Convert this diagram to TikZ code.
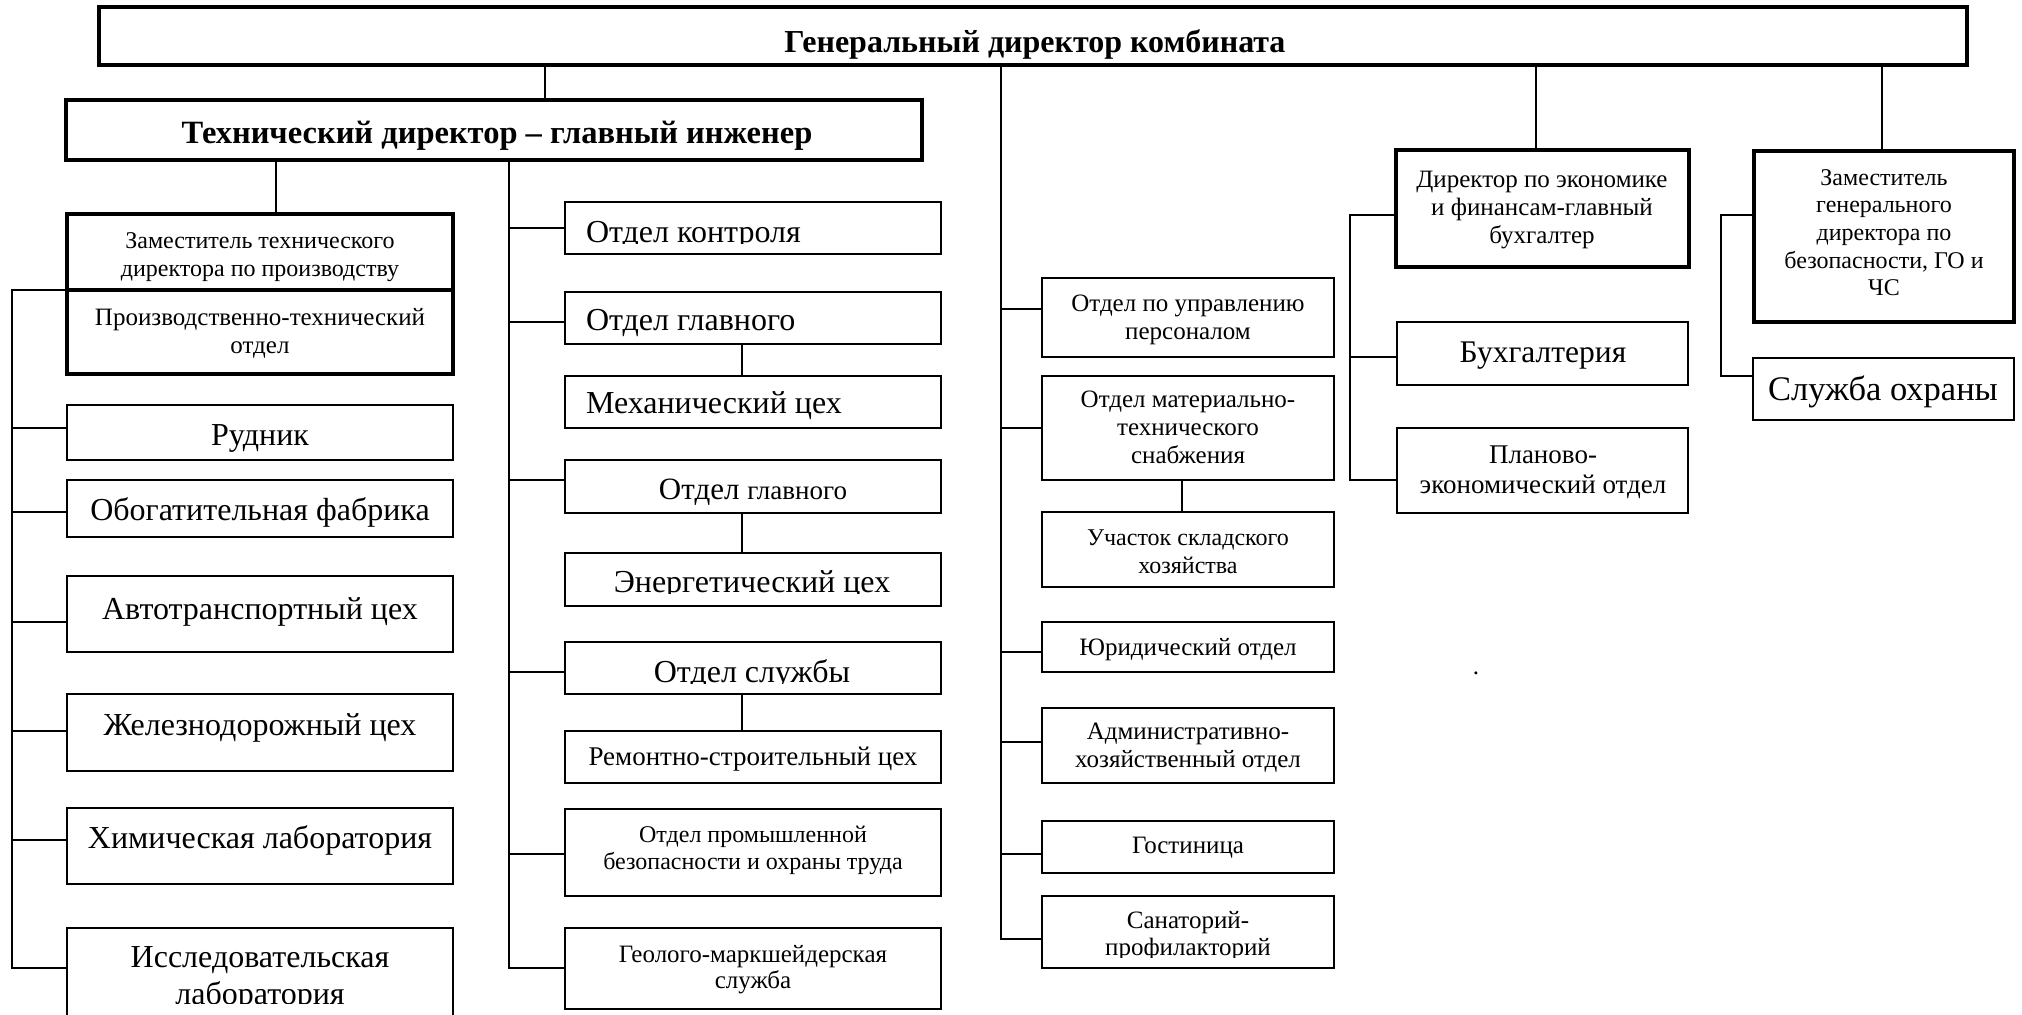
\documentclass[tikz,border=0pt]{standalone}
\usepackage{fontspec}
\setmainfont{Liberation Serif}
\newcommand\fs[2]{\fontsize{#1}{#2}\selectfont}
\newcommand\ml[1]{\begin{tabular}[t]{@{}c@{}}#1\end{tabular}}
\newcommand\boxnode[6]{\node[#1, minimum width={#5-#3}, minimum height={#6-#4}] (#2) at ({(#3+#5)/2},{(#4+#6)/2}) {};}
\newcommand\br[3]{\draw[cn] ([yshift=#3]#1.west) coordinate (#1-c) -- (#1-c -| #2);}
\tikzset{
  bx/.style={draw, line width=2pt, inner sep=0pt, outer sep=0pt},
  tbx/.style={draw, line width=3.5pt, inner sep=0pt, outer sep=0pt},
  cn/.style={line width=1.8pt},
  tx/.style={inner sep=0pt, outer sep=0pt, anchor=base},
  txw/.style={inner sep=0pt, outer sep=0pt, anchor=base west},
}
\begin{document}
\begin{tikzpicture}[x=1pt, y=-1pt]
\fill[white] (0,0) rectangle (2022,1015);
\useasboundingbox (0,0) rectangle (2022,1015);

% ---- top
\boxnode{tbx}{gen}{99}{7}{1967}{65}
\node[tx, font={\fs{32}{38}\bfseries}] (gen-t) at (1035,52) {Генеральный директор комбината};
\boxnode{tbx}{tech}{66}{100}{922}{160}
\node[tx, font={\fs{32.5}{40}\bfseries}] (tech-t) at (497,143) {Технический директор – главный инженер};

% ---- left column
\boxnode{tbx}{zamt}{67}{214}{453}{290}
\node[tx, font={\fs{24}{28}}] (zamt-t) at (260,248) {\ml{Заместитель технического\\директора по производству}};
\boxnode{tbx}{pto}{67}{290}{453}{374}
\node[tx, font={\fs{25}{28}}] (pto-t) at (260,325) {\ml{Производственно-технический\\отдел}};
\boxnode{bx}{rud}{67}{405}{453}{460}
\node[tx, font={\fs{32}{38}}] (rud-t) at (260,445) {Рудник};
\boxnode{bx}{obog}{67}{480}{453}{537}
\node[tx, font={\fs{32}{38}}] (obog-t) at (260,520) {Обогатительная фабрика};
\boxnode{bx}{avto}{67}{576}{453}{652}
\node[tx, font={\fs{32}{38}}] (avto-t) at (260,619) {Автотранспортный цех};
\boxnode{bx}{zhd}{67}{694}{453}{771}
\node[tx, font={\fs{32}{38}}] (zhd-t) at (260,735) {Железнодорожный цех};
\boxnode{bx}{chem}{67}{808}{453}{884}
\node[tx, font={\fs{32}{38}}] (chem-t) at (260,848) {Химическая лаборатория};
\boxnode{bx}{issl}{67}{928}{453}{1045}
\begin{scope}
\clip (issl.north west) rectangle ([yshift=42]issl.south east);
\node[tx, font={\fs{32}{37}}] (issl-t) at (260,967) {\ml{Исследовательская\\лаборатория}};
\end{scope}

% ---- middle column
\boxnode{bx}{kontrol}{565}{202}{941}{254}
\begin{scope}
\clip (kontrol.north west) rectangle ([yshift=11]kontrol.south east);
\node[txw, font={\fs{32}{36}}] (kontrol-t) at (586,242) {Отдел контроля};
\end{scope}
\boxnode{bx}{glav1}{565}{292}{941}{344}
\node[txw, font={\fs{32}{36}}] (glav1-t) at (586,330) {Отдел главного};
\boxnode{bx}{meh}{565}{376}{941}{428}
\node[txw, font={\fs{32}{36}}] (meh-t) at (586,413) {Механический цех};
\boxnode{bx}{glav2}{565}{460}{941}{513}
\node[tx, font={\fs{31}{36}}] (glav2-t) at (753,499) {Отдел {\fs{27}{32}главного}};
\boxnode{bx}{energ}{565}{553}{941}{606}
\begin{scope}
\clip (energ.north west) rectangle ([yshift=13]energ.south east);
\node[tx, font={\fs{32}{36}}] (energ-t) at (752,592) {Энергетический цех};
\end{scope}
\boxnode{bx}{sluzhby}{565}{642}{941}{694}
\begin{scope}
\clip (sluzhby.north west) rectangle ([yshift=11]sluzhby.south east);
\node[tx, font={\fs{32}{36}}] (sluzhby-t) at (752,682) {Отдел службы};
\end{scope}
\boxnode{bx}{remont}{565}{731}{941}{783}
\node[tx, font={\fs{27}{32}}] (remont-t) at (753,765) {Ремонтно-строительный цех};
\boxnode{bx}{prombez}{565}{809}{941}{896}
\node[tx, font={\fs{24}{27.5}}] (prombez-t) at (753,842) {\ml{Отдел промышленной\\безопасности и охраны труда}};
\boxnode{bx}{geolog}{565}{928}{941}{1009}
\node[tx, font={\fs{25}{26.5}}] (geolog-t) at (753,962) {\ml{Геолого-маркшейдерская\\служба}};

% ---- third column
\boxnode{bx}{personal}{1042}{278}{1334}{357}
\node[tx, font={\fs{25}{28}}] (personal-t) at (1188,311) {\ml{Отдел по управлению\\персоналом}};
\boxnode{bx}{mts}{1042}{376}{1334}{480}
\node[tx, font={\fs{25}{28}}] (mts-t) at (1188,407) {\ml{Отдел материально-\\технического\\снабжения}};
\boxnode{bx}{uch}{1042}{512}{1334}{587}
\node[tx, font={\fs{24}{28}}] (uch-t) at (1188,545) {\ml{Участок складского\\хозяйства}};
\boxnode{bx}{yur}{1042}{622}{1334}{672}
\node[tx, font={\fs{25}{28}}] (yur-t) at (1188,655) {Юридический отдел};
\boxnode{bx}{admin}{1042}{708}{1334}{783}
\node[tx, font={\fs{25}{28}}] (admin-t) at (1188,739) {\ml{Административно-\\хозяйственный отдел}};
\boxnode{bx}{gost}{1042}{821}{1334}{873}
\node[tx, font={\fs{25}{28}}] (gost-t) at (1188,853) {Гостиница};
\boxnode{bx}{sanat}{1042}{896}{1334}{968}
\begin{scope}
\clip (sanat.north west) rectangle ([yshift=11]sanat.south east);
\node[tx, font={\fs{25}{27}}] (sanat-t) at (1188,928) {\ml{Санаторий-\\профилакторий}};
\end{scope}

% ---- economics
\boxnode{tbx}{econ}{1396}{150}{1689}{267}
\node[tx, font={\fs{25}{28}}] (econ-t) at (1542,187) {\ml{Директор по экономике\\и финансам-главный\\бухгалтер}};
\boxnode{bx}{buh}{1397}{322}{1688}{385}
\node[tx, font={\fs{31.5}{36}}] (buh-t) at (1543,362) {Бухгалтерия};
\boxnode{bx}{plan}{1397}{428}{1688}{513}
\node[tx, font={\fs{27}{30}}] (plan-t) at (1543,463) {\ml{Планово-\\экономический отдел}};

% ---- security
\boxnode{tbx}{zam}{1754}{151}{2014}{322}
\node[tx, font={\fs{24}{27.7}}] (zam-t) at (1884,185) {\ml{Заместитель\\генерального\\директора по\\безопасности, ГО и\\ЧС}};
\boxnode{bx}{ohr}{1753}{358}{2014}{420}
\node[tx, font={\fs{34.5}{38}}] (ohr-t) at (1883,400) {Служба охраны};

\node[tx, font={\fs{25}{28}}] (dot) at (1476,674) {.};

% ---- connectors
\coordinate (g2t) at ([xshift=51]tech.north);
\draw[cn] (g2t) -- (g2t |- gen.south);
\coordinate (t2z) at ([xshift=16]zamt.north);
\draw[cn] (t2z) -- (t2z |- tech.south);

\coordinate (ls) at (12,968);
\draw[cn] (zamt.south west) -| (ls) -- (ls -| issl.west);
\br{rud}{ls}{4.5}
\br{obog}{ls}{-3.5}
\br{avto}{ls}{-8}
\br{zhd}{ls}{1.5}
\br{chem}{ls}{6}

\coordinate (ms) at (509,968);
\draw[cn] (ms |- tech.south) -- (ms) -- (ms -| geolog.west);
\br{kontrol}{ms}{0}
\br{glav1}{ms}{-4}
\br{glav2}{ms}{6.5}
\br{sluzhby}{ms}{-4}
\br{prombez}{ms}{-1.5}
\draw[cn] ([xshift=-11]glav1.south) -- ([xshift=-11]meh.north);
\draw[cn] ([xshift=-11]glav2.south) -- ([xshift=-11]energ.north);
\draw[cn] ([xshift=-11]sluzhby.south) -- ([xshift=-11]remont.north);

\coordinate (rs) at (1001,939);
\draw[cn] (rs |- gen.south) -- (rs) -- (rs -| sanat.west);
\br{personal}{rs}{8.5}
\br{mts}{rs}{0}
\br{yur}{rs}{-5}
\br{admin}{rs}{3.5}
\br{gost}{rs}{-7}
\draw[cn] ([xshift=-6]mts.south) -- ([xshift=-6]uch.north);

\coordinate (g2e) at ([xshift=-6.5]econ.north);
\draw[cn] (g2e) -- (g2e |- gen.south);
\coordinate (es) at (1350,480);
\draw[cn] ([yshift=-6.5]econ.west) -| (es) -- (es -| plan.west);
\br{buh}{es}{-3.5}

\coordinate (g2z) at ([xshift=-2]zam.north);
\draw[cn] (g2z) -- (g2z |- gen.south);
\coordinate (zs) at (1721,376);
\draw[cn] ([yshift=21.5]zam.west) -| (zs) -- (zs -| ohr.west);
\end{tikzpicture}
\end{document}
